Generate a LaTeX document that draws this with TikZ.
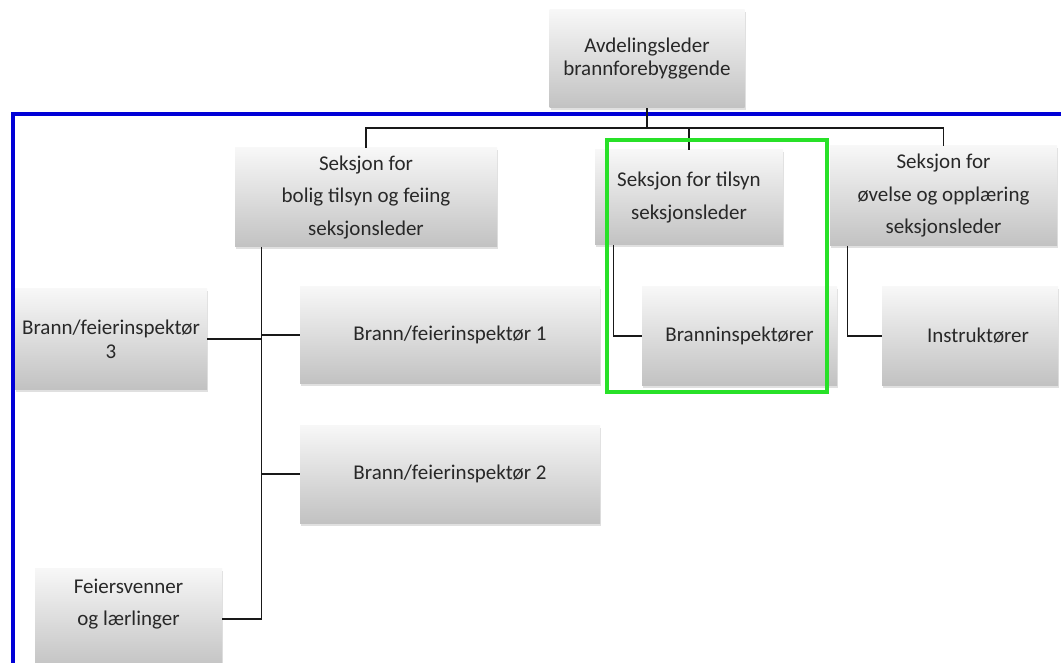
\documentclass[tikz,border=0pt]{standalone}
\usepackage{fontspec}
\setmainfont{Carlito}
\usetikzlibrary{shadows}
\definecolor{frameblue}{RGB}{0,0,215}
\definecolor{markgreen}{RGB}{40,225,40}
\definecolor{txt}{RGB}{40,40,40}
\tikzset{
  orgbox/.style={rectangle, draw=none, top color=white!97!black, bottom color=white!76!black,
    drop shadow={shadow xshift=1pt, shadow yshift=-2.5pt, opacity=0.2, fill=black!60},
    text=txt, align=center, inner sep=0pt,
    font=\fontsize{21}{23}\selectfont},
  wide/.style={font=\fontsize{21}{32.5}\selectfont},
  link/.style={draw=black!90, line width=1.3pt},
}
\begin{document}
\begin{tikzpicture}[x=1pt,y=-1pt]
\useasboundingbox (0,0) rectangle (1061,663);
\clip (0,0) rectangle (1061,663);
\fill[white] (0,0) rectangle (1061,663);

% department head
\node[orgbox, minimum width=195, minimum height=98] (top) at (647,59)
  {Avdelingsleder\\brannforebyggende};

% sections
\node[orgbox, wide, minimum width=262, minimum height=99] (sec1) at (366,197.5)
  {Seksjon for\\bolig tilsyn og feiing\\seksjonsleder};
\node[orgbox, wide, minimum width=188, minimum height=95] (sec2) at (689,197.5)
  {Seksjon for tilsyn\\seksjonsleder};
\node[orgbox, wide, minimum width=227, minimum height=100] (sec3) at (943.5,196)
  {Seksjon for\\øvelse og opplæring\\seksjonsleder};

% staff under the sections
\node[orgbox, font=\fontsize{21}{24}\selectfont, minimum width=192, minimum height=100] (b3) at (111,339)
  {Brann/feierinspektør\\3};
\node[orgbox, minimum width=300, minimum height=97] (b1) at (450,335)
  {Brann/feierinspektør 1};
\node[orgbox, minimum width=300, minimum height=98] (b2) at (450,474)
  {Brann/feierinspektør 2};
\node[orgbox, minimum width=187, minimum height=102] (fei) at (128.5,619) {};
\node[text=txt, align=center, inner sep=0pt, font=\fontsize{21}{32}\selectfont] (feitxt) at (128.5,604)
  {Feiersvenner\\og lærlinger};
\node[orgbox, minimum width=195, minimum height=98] (bi) at (739.5,336)
  {Branninspektører};
\node[orgbox, minimum width=176, minimum height=98, text width=176, align=center] (instr) at (970,336)
  {\hspace*{16pt}Instruktører};

% connectors
\coordinate (bar) at (647,128);
\draw[link] (top.south) -- (bar);
\draw[link] (sec1.north) -- (sec1.north |- bar) -- (sec3.north |- bar) -- (sec3.north);
\draw[link] (sec2.north |- bar) -- (sec2.north);

\coordinate (spine) at ([xshift=27pt]sec1.south west);
\draw[link] (spine) |- (fei.east);
\draw[link] (b3.east) -- (b3.east -| spine);
\draw[link] (b1.west -| spine) -- (b1.west);
\draw[link] (b2.west -| spine) -- (b2.west);
\draw[link] ([xshift=19pt]sec2.south west) |- (bi.west);
\draw[link] ([xshift=18pt]sec3.south west) |- (instr.west);

% frames
\draw[frameblue, line width=4pt] (13,114) rectangle (1080,690);
\draw[link] (top.south) -- (bar);
\draw[markgreen, line width=4pt] (607,140) rectangle (827,392);
\end{tikzpicture}
\end{document}
